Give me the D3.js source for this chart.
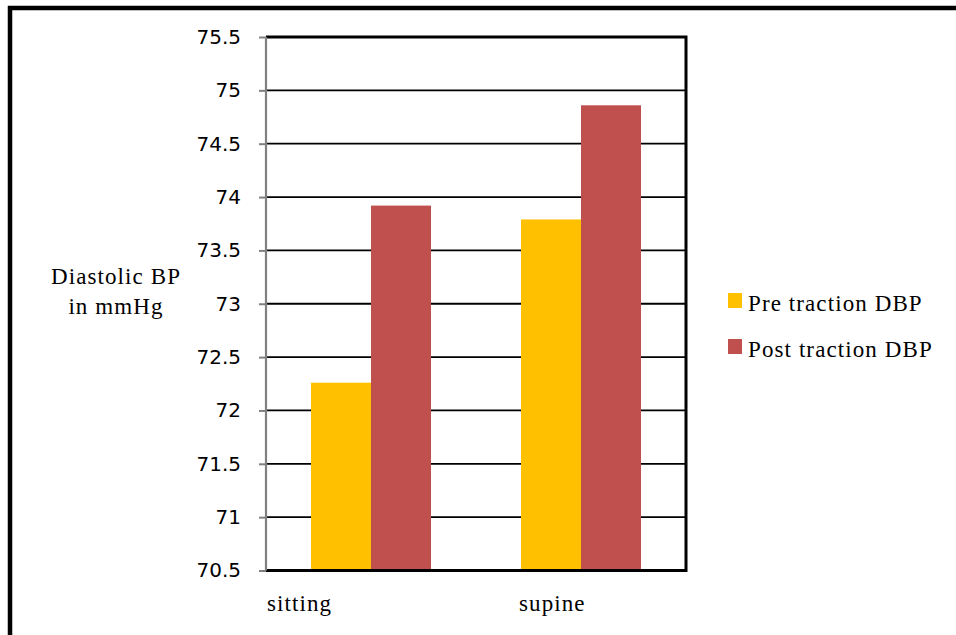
<!DOCTYPE html>
<html>
<head>
<meta charset="utf-8">
<script src="https://cdn.jsdelivr.net/npm/d3@7"></script>
<style>
  html, body { margin: 0; padding: 0; background: #fff; }
  svg { display: block; }
  .serif { font-family: "Liberation Serif", serif; font-size: 23px; letter-spacing: 1.1px; }
</style>
</head>
<body>
<div id="chart"></div>
<script>
// --- Data ---
const categories = ["sitting", "supine"];
const seriesNames = ["Pre traction DBP", "Post traction DBP"];
const preValues = [72.26, 73.79];
const postValues = [73.92, 74.86];
const yTicks = [70.5, 71, 71.5, 72, 72.5, 73, 73.5, 74, 74.5, 75, 75.5];
const colors = ["#FFC000", "#C0504D"];

const W = 956, H = 635;
const plot = { left: 266, top: 37, right: 686, bottom: 570.5 };

const svg = d3.select("#chart").append("svg")
    .attr("width", W).attr("height", H);

// outer frame (cropped on right and bottom)
svg.append("rect")
    .attr("x", 10).attr("y", 8)
    .attr("width", W + 20).attr("height", H + 20)
    .attr("fill", "none").attr("stroke", "#000").attr("stroke-width", 4.5);

const x0 = d3.scaleBand().domain(categories)
    .range([plot.left, plot.right]).paddingInner(0.4286).paddingOuter(0.2143);
const x1 = d3.scaleBand().domain(seriesNames).range([0, x0.bandwidth()]);
const y = d3.scaleLinear().domain([70.5, 75.5]).range([plot.bottom, plot.top]);

// gridlines
svg.append("g").selectAll("line")
    .data(yTicks.slice(1, -1))
    .join("line")
    .attr("x1", plot.left).attr("x2", plot.right)
    .attr("y1", d => y(d)).attr("y2", d => y(d))
    .attr("stroke", "#000").attr("stroke-width", 1.8);

// bars
const rows = categories.map((c, i) => ({ cat: c, vals: [preValues[i], postValues[i]] }));
svg.append("g").selectAll("g")
    .data(rows)
    .join("g")
    .attr("transform", d => `translate(${x0(d.cat)},0)`)
    .selectAll("rect")
    .data(d => d.vals.map((v, j) => ({ name: seriesNames[j], v, j })))
    .join("rect")
    .attr("x", d => x1(d.name))
    .attr("width", x1.bandwidth())
    .attr("y", d => y(d.v))
    .attr("height", d => plot.bottom - y(d.v))
    .attr("fill", d => colors[d.j]);

// plot border top/right/bottom
svg.append("path")
    .attr("d", `M${plot.left},${plot.top}H${plot.right}V${plot.bottom}H${plot.left}`)
    .attr("fill", "none").attr("stroke", "#000").attr("stroke-width", 3);

// y axis
const yAxis = d3.axisLeft(y).tickValues(yTicks).tickSize(7).tickPadding(18)
    .tickFormat(d3.format("~g"));
const yg = svg.append("g").attr("transform", `translate(${plot.left},0)`).call(yAxis);
yg.select(".domain").attr("stroke", "#808080").attr("stroke-width", 2.2)
    .attr("d", `M0,${plot.top}V${plot.bottom}`);
yg.selectAll(".tick line").attr("stroke", "#808080").attr("stroke-width", 2);
yg.selectAll(".tick text")
    .attr("font-family", "DejaVu Sans").attr("font-size", 20).attr("fill", "#000");

// category labels
const labelShift = [-104, -62];
svg.append("g").selectAll("text")
    .data(categories)
    .join("text")
    .attr("class", "serif")
    .attr("x", (d, i) => x0(d) + x0.bandwidth() / 2 + labelShift[i])
    .attr("y", 611)
    .text(d => d);

// y title
const title = svg.append("text")
    .attr("class", "serif")
    .attr("text-anchor", "middle");
title.append("tspan").attr("x", 116).attr("y", 284).text("Diastolic BP");
title.append("tspan").attr("x", 116).attr("y", 314).text("in mmHg");

// legend
const leg = svg.append("g").selectAll("g")
    .data(seriesNames)
    .join("g")
    .attr("transform", (d, i) => `translate(728,${293 + i * 46})`);
leg.append("rect").attr("width", 14).attr("height", 15)
    .attr("fill", (d, i) => colors[i]);
leg.append("text").attr("class", "serif").attr("x", 20).attr("y", 18)
    .text(d => d);
</script>
</body>
</html>
